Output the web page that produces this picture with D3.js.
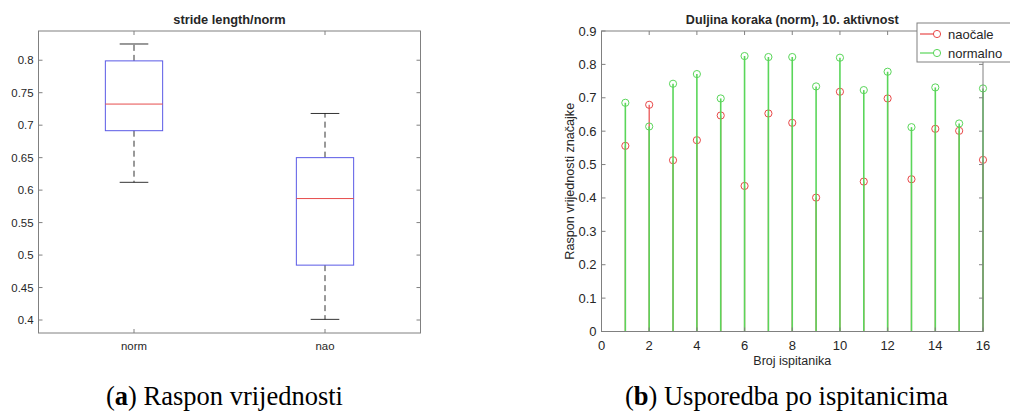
<!DOCTYPE html>
<html>
<head>
<meta charset="utf-8">
<script src="https://cdn.jsdelivr.net/npm/d3@7"></script>
<style>
  html, body { margin: 0; padding: 0; background: #fff; }
  svg { display: block; }
  text { font-family: "Liberation Sans", Arial, sans-serif; fill: #262626; }
  .cap { font-family: "Liberation Serif", "Times New Roman", serif; fill: #000; }
</style>
</head>
<body>
<div id="chart"></div>
<script>
// Stride length per subject, two conditions
const subjects = d3.range(1, 17);
const naocale  = [0.556, 0.679, 0.513, 0.573, 0.647, 0.436, 0.653, 0.625, 0.401, 0.718, 0.449, 0.698, 0.456, 0.607, 0.601, 0.514];
const normalno = [0.685, 0.614, 0.742, 0.771, 0.698, 0.825, 0.822, 0.822, 0.734, 0.820, 0.723, 0.778, 0.612, 0.731, 0.623, 0.728];

const boxCats = ["norm", "nao"];
const boxTicks = [0.4, 0.45, 0.5, 0.55, 0.6, 0.65, 0.7, 0.75, 0.8];
const stemYTicks = [0, 0.1, 0.2, 0.3, 0.4, 0.5, 0.6, 0.7, 0.8, 0.9];
const stemXTicks = [0, 2, 4, 6, 8, 10, 12, 14, 16];

const W = 1010, H = 417;
const svg = d3.select("#chart").append("svg").attr("width", W).attr("height", H);

const axisCol = "#808080";
const tickLen = 4;

// matlab style quantile (p*n + 0.5)
function mquant(arr, p) {
  const s = arr.slice().sort(d3.ascending), n = s.length;
  let pos = p * n + 0.5;
  if (pos <= 1) return s[0];
  if (pos >= n) return s[n - 1];
  const lo = Math.floor(pos), f = pos - lo;
  return s[lo - 1] + f * (s[lo] - s[lo - 1]);
}

function frame(g, x0, x1, y0, y1) {
  g.append("rect").attr("x", x0).attr("y", y0).attr("width", x1 - x0).attr("height", y1 - y0)
    .attr("fill", "none").attr("stroke", axisCol).attr("stroke-width", 1);
}

// ---------- (a) boxplot ----------
{
  const L = { x0: 38.5, x1: 420.5, y0: 31, y1: 333 };
  const x = d3.scaleLinear().domain([0.5, 2.5]).range([L.x0, L.x1]);
  const y = d3.scaleLinear().domain([0.38, 0.845]).range([L.y1, L.y0]);
  const g = svg.append("g");

  const stats = [normalno, naocale].map(v => ({
    lo: d3.min(v), q1: mquant(v, 0.25), med: mquant(v, 0.5), q3: mquant(v, 0.75), hi: d3.max(v)
  }));
  const bw = 0.3;

  stats.forEach((s, i) => {
    const cx = x(i + 1);
    const half = x(i + 1 + bw / 2) - cx;
    // whiskers
    g.append("line").attr("x1", cx).attr("x2", cx).attr("y1", y(s.q3)).attr("y2", y(s.hi))
      .attr("stroke", "#000").attr("stroke-dasharray", "6,4").attr("stroke-width", 0.8);
    g.append("line").attr("x1", cx).attr("x2", cx).attr("y1", y(s.q1)).attr("y2", y(s.lo))
      .attr("stroke", "#000").attr("stroke-dasharray", "6,4").attr("stroke-width", 0.8);
    [s.hi, s.lo].forEach(v => {
      g.append("line").attr("x1", cx - half / 2).attr("x2", cx + half / 2)
        .attr("y1", y(v)).attr("y2", y(v)).attr("stroke", "#000").attr("stroke-width", 0.8);
    });
    g.append("rect").attr("x", cx - half).attr("width", 2 * half)
      .attr("y", y(s.q3)).attr("height", y(s.q1) - y(s.q3))
      .attr("fill", "none").attr("stroke", "#5a5ae6").attr("stroke-width", 1);
    g.append("line").attr("x1", cx - half).attr("x2", cx + half)
      .attr("y1", y(s.med)).attr("y2", y(s.med)).attr("stroke", "#e64c4c").attr("stroke-width", 1);
  });

  frame(g, L.x0, L.x1, L.y0, L.y1);
  boxTicks.forEach(t => {
    g.append("line").attr("x1", L.x0).attr("x2", L.x0 + tickLen).attr("y1", y(t)).attr("y2", y(t)).attr("stroke", axisCol);
    g.append("line").attr("x1", L.x1).attr("x2", L.x1 - tickLen).attr("y1", y(t)).attr("y2", y(t)).attr("stroke", axisCol);
    g.append("text").attr("x", L.x0 - 5).attr("y", y(t)).attr("dy", "0.35em")
      .attr("text-anchor", "end").attr("font-size", "11.4px").text(String(t));
  });
  boxCats.forEach((c, i) => {
    const cx = x(i + 1);
    g.append("line").attr("x1", cx).attr("x2", cx).attr("y1", L.y1).attr("y2", L.y1 - tickLen).attr("stroke", axisCol);
    g.append("line").attr("x1", cx).attr("x2", cx).attr("y1", L.y0).attr("y2", L.y0 + tickLen).attr("stroke", axisCol);
    g.append("text").attr("x", cx).attr("y", L.y1 + 13).attr("dy", "0.35em")
      .attr("text-anchor", "middle").attr("font-size", "11.4px").text(c);
  });
  g.append("text").attr("x", (L.x0 + L.x1) / 2).attr("y", 24).attr("text-anchor", "middle")
    .attr("font-size", "12.8px").attr("font-weight", "bold").attr("fill", "#000").text("stride length/norm");
}

// ---------- (b) stem plot ----------
{
  const R = { x0: 601.5, x1: 983, y0: 31, y1: 331.5 };
  const x = d3.scaleLinear().domain([0, 16]).range([R.x0, R.x1]);
  const y = d3.scaleLinear().domain([0, 0.9]).range([R.y1, R.y0]);
  const g = svg.append("g");
  const red = "#e84848", green = "#5ad65a";
  const series = [
    { v: naocale, c: red, name: "naočale", w: 1.2 },
    { v: normalno, c: green, name: "normalno", w: 1.6 }
  ];

  series.forEach(s => {
    g.selectAll(null).data(subjects).join("line")
      .attr("x1", d => x(d)).attr("x2", d => x(d))
      .attr("y1", y(0)).attr("y2", (d, i) => y(s.v[i]))
      .attr("stroke", s.c).attr("stroke-width", s.w);
    g.selectAll(null).data(subjects).join("circle")
      .attr("cx", d => x(d)).attr("cy", (d, i) => y(s.v[i])).attr("r", 3.6)
      .attr("fill", "none").attr("stroke", s.c).attr("stroke-width", 1);
  });

  frame(g, R.x0, R.x1, R.y0, R.y1);
  stemYTicks.forEach(t => {
    g.append("line").attr("x1", R.x0).attr("x2", R.x0 + tickLen).attr("y1", y(t)).attr("y2", y(t)).attr("stroke", axisCol);
    g.append("line").attr("x1", R.x1).attr("x2", R.x1 - tickLen).attr("y1", y(t)).attr("y2", y(t)).attr("stroke", axisCol);
    g.append("text").attr("x", R.x0 - 5).attr("y", y(t)).attr("dy", "0.35em")
      .attr("text-anchor", "end").attr("font-size", "13px").text(String(t));
  });
  stemXTicks.forEach(t => {
    g.append("line").attr("x1", x(t)).attr("x2", x(t)).attr("y1", R.y1).attr("y2", R.y1 - tickLen).attr("stroke", axisCol);
    g.append("line").attr("x1", x(t)).attr("x2", x(t)).attr("y1", R.y0).attr("y2", R.y0 + tickLen).attr("stroke", axisCol);
    g.append("text").attr("x", x(t)).attr("y", 345.5).attr("dy", "0.35em")
      .attr("text-anchor", "middle").attr("font-size", "13px").text(String(t));
  });
  g.append("text").attr("x", (R.x0 + R.x1) / 2).attr("y", 24).attr("text-anchor", "middle")
    .attr("font-size", "12.6px").attr("font-weight", "bold").attr("fill", "#000")
    .text("Duljina koraka (norm), 10. aktivnost");
  g.append("text").attr("x", (R.x0 + R.x1) / 2).attr("y", 361).attr("dy", "0.35em").attr("text-anchor", "middle")
    .attr("font-size", "12.5px").text("Broj ispitanika");
  g.append("text").attr("transform", `translate(570,${(R.y0 + R.y1) / 2}) rotate(-90)`)
    .attr("dy", "0.35em").attr("text-anchor", "middle").attr("font-size", "12.6px").text("Raspon vrijednosti značajke");

  // legend
  const lg = g.append("g").attr("transform", "translate(917,23)");
  lg.append("rect").attr("x", 0).attr("y", 0).attr("width", 100).attr("height", 39)
    .attr("fill", "#fff").attr("stroke", axisCol);
  series.forEach((s, i) => {
    const yy = 11 + i * 19;
    lg.append("line").attr("x1", 3).attr("x2", 20).attr("y1", yy).attr("y2", yy).attr("stroke", s.c).attr("stroke-width", 1.2);
    lg.append("circle").attr("cx", 20).attr("cy", yy).attr("r", 3.6).attr("fill", "#fff").attr("stroke", s.c);
    lg.append("text").attr("x", 31).attr("y", yy).attr("dy", "0.35em").attr("font-size", "13px").attr("fill", "#000").text(s.name);
  });
}

// ---------- captions ----------
function caption(cx, letter, rest) {
  const t = svg.append("text").attr("class", "cap").attr("x", cx).attr("y", 405)
    .attr("text-anchor", "middle").attr("font-size", "26.5px");
  t.append("tspan").text("(");
  t.append("tspan").attr("font-weight", "bold").text(letter);
  t.append("tspan").text(") " + rest);
}
caption(224.5, "a", "Raspon vrijednosti");
caption(786.5, "b", "Usporedba po ispitanicima");
</script>
</body>
</html>
